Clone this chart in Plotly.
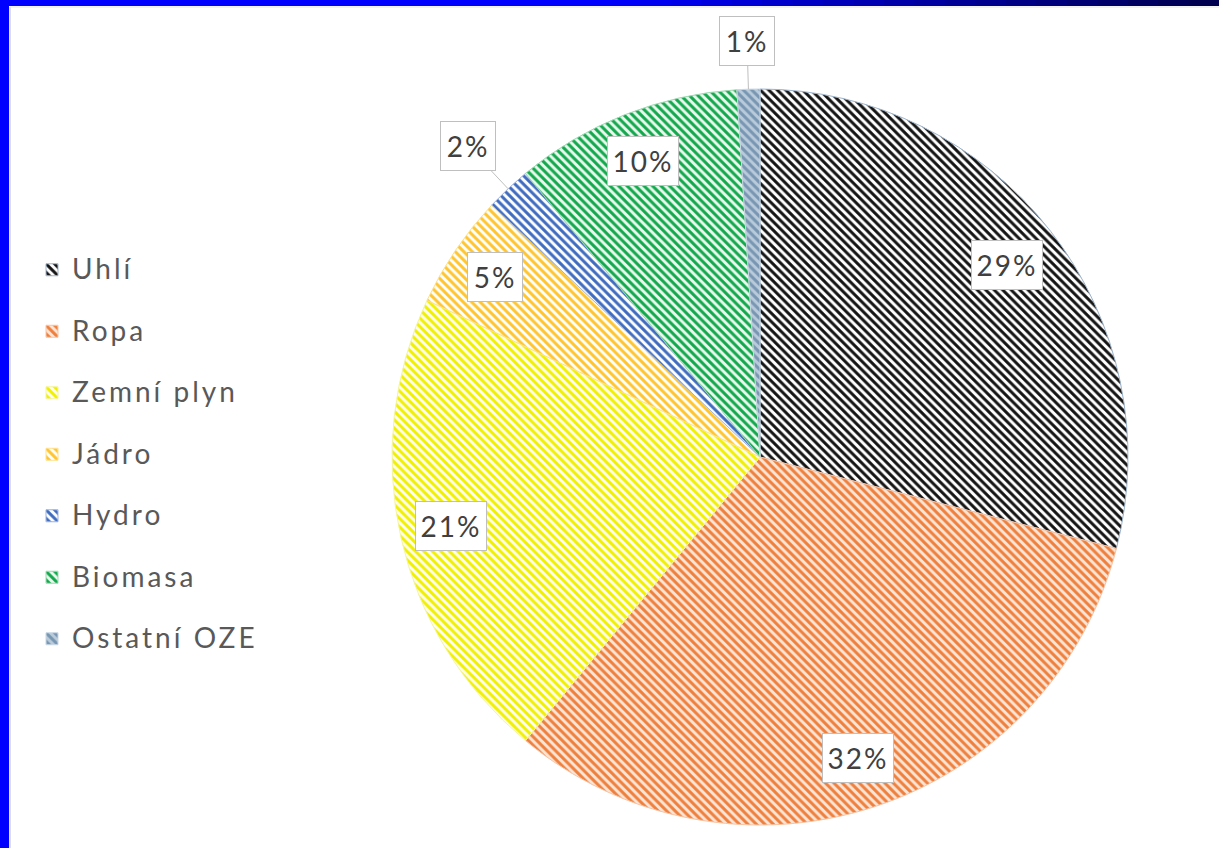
import math
import plotly.graph_objects as go

# ---- data ----
categories = ["Uhlí", "Ropa", "Zemní plyn", "Jádro", "Hydro", "Biomasa", "Ostatní OZE"]
shares = [29, 32, 21, 5, 2, 10, 1]
label_texts = ["29%", "32%", "21%", "5%", "2%", "10%", "1%"]

# ---- styles ----
stripe_colors = ["#141414", "#EE7F3C", "#F0F000", "#FFC52E", "#3F6CC0", "#12A84C", "#7896B2"]
base_colors = ["#FFFFFF", "#FDE5D6", "#FFFFF0", "#FFFFFF", "#FFFFFF", "#EAF7EE", "#B9CBDB"]
edge_colors = ["#9DB4CC", "#F8C4A4", "#F4F4A0", "#FFE08A", "#9DB2DE", "#9ED9B2", "#C9D7E4"]
label_radius = [0.85, 0.86, 0.86, 0.87, 1.16, 0.865, 1.13]
label_box_w = [66, 66, 66, 50, 50, 66, 50]

W, H = 1219, 848
CX, CY, R = 760, 457, 368

fig = go.Figure()
fig.add_trace(go.Pie(
    labels=[f'<span style="font-size:28px;baseline-shift:8px;letter-spacing:3px">{c}</span>'
            for c in categories],
    values=shares,
    sort=False,
    direction="clockwise",
    rotation=0,
    textinfo="none",
    hoverinfo="percent",
    marker=dict(
        colors=base_colors,
        line=dict(color=edge_colors, width=1),
        pattern=dict(shape="\\", size=6, solidity=0.5, fgcolor=stripe_colors,
                     fgopacity=1, fillmode="overlay"),
    ),
    domain=dict(x=[(CX - R) / W, (CX + R) / W], y=[1 - (CY + R) / H, 1 - (CY - R) / H]),
    showlegend=True,
))

# label callouts
total = sum(shares)
cum = 0
annotations = []
for i, v in enumerate(shares):
    mid = (cum + v / 2) / total * 2 * math.pi
    cum += v
    f = label_radius[i]
    sx, sy = math.sin(mid), -math.cos(mid)
    common = dict(text=f'<span style="letter-spacing:2px">{label_texts[i]}</span>',
                  font=dict(family="Lato", size=28, color="#404040"),
                  bgcolor="white", bordercolor="#BFBFBF", borderwidth=1, borderpad=2,
                  width=label_box_w[i], height=44, xref="paper", yref="paper",
                  xanchor="center", yanchor="middle")
    if f > 1:
        ex, ey = CX + R * sx, CY + R * sy
        annotations.append(dict(x=ex / W, y=1 - ey / H, showarrow=True, arrowhead=0,
                                arrowcolor="#BFBFBF", arrowwidth=1,
                                ax=(f - 1) * R * sx, ay=(f - 1) * R * sy, **common))
    else:
        lx, ly = CX + f * R * sx, CY + f * R * sy
        annotations.append(dict(x=lx / W, y=1 - ly / H, showarrow=False, **common))

# slide frame (blue borders)
shapes = [dict(type="rect", xref="paper", yref="paper", x0=0, x1=9 / W, y0=0, y1=1,
               fillcolor="#0000FF", line=dict(width=0), layer="above"),
          dict(type="line", xref="paper", yref="paper", x0=10 / W, x1=10 / W, y0=0, y1=1 - 7 / H,
               line=dict(color="#E0E0E0", width=2)),
          dict(type="line", xref="paper", yref="paper", x0=10 / W, x1=1, y0=1 - 7 / H, y1=1 - 7 / H,
               line=dict(color="#E6E6E6", width=1))]
nseg = 40
for k in range(nseg):
    t = k / (nseg - 1)
    if t < 0.5:
        b = 255
    else:
        b = int(255 - (255 - 80) * (t - 0.5) / 0.5)
    shapes.append(dict(type="rect", xref="paper", yref="paper", x0=k / nseg, x1=(k + 1) / nseg + 0.001,
                       y0=1 - 6 / H, y1=1, fillcolor=f"rgb(0,0,{b})", line=dict(width=0), layer="above"))

fig.update_layout(
    width=W, height=H,
    margin=dict(l=0, r=0, t=0, b=0),
    paper_bgcolor="white", plot_bgcolor="white",
    annotations=annotations,
    shapes=shapes,
    legend=dict(x=32 / W, xanchor="left", y=1 - 234 / H, yanchor="top",
                font=dict(family="Lato", size=45, color="#595959"),
                bgcolor="rgba(0,0,0,0)"),
)

fig.write_html("out.html", config={"displayModeBar": False},
               post_script="document.body.style.margin='0px';document.body.style.overflow='hidden';")
